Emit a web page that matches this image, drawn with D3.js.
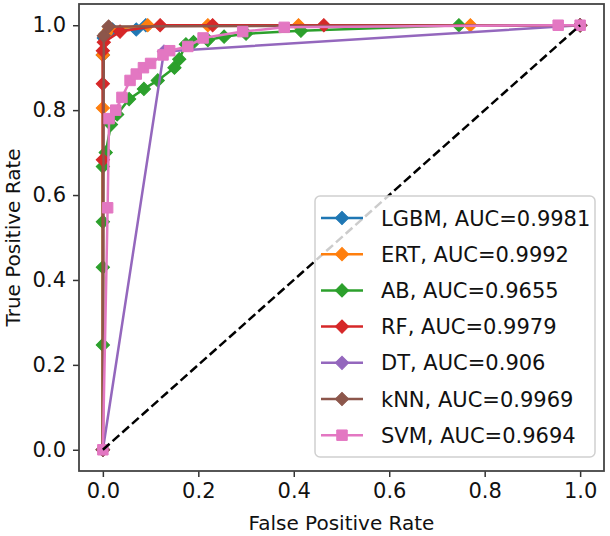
<!DOCTYPE html>
<html><head><meta charset="utf-8">
<script src="https://cdn.jsdelivr.net/npm/d3@7"></script>
<style>body{margin:0;background:#fff}svg{display:block}</style>
</head><body>
<svg id="c" width="610" height="536"></svg>
<script>
const models = ["LGBM","ERT","AB","RF","DT","kNN","SVM"];
const aucs = ["0.9981","0.9992","0.9655","0.9979","0.906","0.9969","0.9694"];
const colors = ["#1f77b4","#ff7f0e","#2ca02c","#d62728","#9467bd","#8c564b","#e377c2"];
const markerTypes = ["D","D","D","D","D","D","s"];

const fprLGBM = [0,0,0.002,0.006,0.02,0.07,0.09,1];
const tprLGBM = [0,0.93,0.97,0.98,0.99,0.99,1.0,1.0];
const fprERT = [0,0,0,0.006,0.013,0.094,0.22,0.41,0.77,1];
const tprERT = [0,0.805,0.93,0.98,0.99,1.0,1.0,1.0,1.0,1.0];
const fprAB = [0,0,0,0,0,0.006,0.017,0.03,0.055,0.086,0.115,0.15,0.16,0.174,0.19,0.22,0.254,0.30,0.415,0.746,1];
const tprAB = [0,0.247,0.43,0.537,0.667,0.70,0.766,0.79,0.826,0.85,0.87,0.90,0.92,0.955,0.96,0.965,0.973,0.98,0.987,1.0,1.0];
const fprRF = [0,0,0,0,0.002,0.036,0.12,0.23,0.463,1];
const tprRF = [0,0.683,0.862,0.94,0.96,0.985,1.0,1.0,1.0,1.0];
const fprDT = [0,0.128,1];
const tprDT = [0,0.938,1];
const fprKNN = [0,0.002,0.012,1];
const tprKNN = [0,0.975,0.997,1.0];
const fprSVM = [0,0.01,0.013,0.027,0.04,0.057,0.07,0.085,0.1,0.126,0.14,0.178,0.21,0.293,0.38,0.954,1];
const tprSVM = [0,0.57,0.78,0.80,0.83,0.87,0.885,0.90,0.91,0.93,0.94,0.95,0.97,0.985,0.995,1.0,1.0];

const xTicks = [0,0.2,0.4,0.6,0.8,1.0];
const yTicks = [0,0.2,0.4,0.6,0.8,1.0];

const fprs = [fprLGBM,fprERT,fprAB,fprRF,fprDT,fprKNN,fprSVM];
const tprs = [tprLGBM,tprERT,tprAB,tprRF,tprDT,tprKNN,tprSVM];

const L=79,R=604,T=4,B=471;
const FONT = "DejaVu Sans, sans-serif";
const svg = d3.select("#c");
const x = d3.scaleLinear().domain([-0.05,1.05]).range([L,R]);
const y = d3.scaleLinear().domain([-0.05,1.05]).range([B,T]);

const line = d3.line().x(d=>x(d[0])).y(d=>y(d[1]));
const diamond = d3.symbol().type(d3.symbolSquare).size(88);
const square = d3.symbol().type(d3.symbolSquare).size(110);

function drawMarker(g, type, cx, cy, col){
  if(type==="D"){
    g.append("path").attr("d", diamond()).attr("transform",`translate(${cx},${cy}) rotate(45)`)
      .attr("fill",col).attr("stroke",col).attr("stroke-width",1);
  } else {
    g.append("path").attr("d", square()).attr("transform",`translate(${cx},${cy})`)
      .attr("fill",col).attr("stroke",col).attr("stroke-width",1);
  }
}

const plot = svg.append("g");
models.forEach((m,i)=>{
  const pts = fprs[i].map((f,j)=>[f,tprs[i][j]]);
  const g = plot.append("g");
  g.append("path").attr("d", line(pts)).attr("fill","none").attr("stroke",colors[i])
    .attr("stroke-width",2.5).attr("stroke-linejoin","round");
  pts.forEach(p=>drawMarker(g, markerTypes[i], x(p[0]), y(p[1]), colors[i]));
});
plot.append("line").attr("x1",x(0)).attr("y1",y(0)).attr("x2",x(1)).attr("y2",y(1))
  .attr("stroke","#000").attr("stroke-width",2.5).attr("stroke-dasharray","9,4");

// axes
const xa = svg.append("g").attr("transform",`translate(0,${B})`)
  .call(d3.axisBottom(x).tickValues(xTicks).tickFormat(d3.format(".1f")).tickSize(6).tickPadding(6));
const ya = svg.append("g").attr("transform",`translate(${L},0)`)
  .call(d3.axisLeft(y).tickValues(yTicks).tickFormat(d3.format(".1f")).tickSize(6).tickPadding(7));
[xa,ya].forEach(a=>{
  a.select(".domain").remove();
  a.selectAll("line").attr("stroke","#333").attr("stroke-width",1.5);
  a.selectAll("text").attr("font-family",FONT).attr("font-size",21).attr("fill","#111");
});
svg.append("rect").attr("x",L).attr("y",T).attr("width",R-L).attr("height",B-T)
  .attr("fill","none").attr("stroke","#444").attr("stroke-width",1.8);

svg.append("text").attr("x",(L+R)/2).attr("y",530).attr("text-anchor","middle")
  .attr("font-family",FONT).attr("font-size",20).attr("fill","#111").text("False Positive Rate");
svg.append("text").attr("transform",`translate(20,${(T+B)/2}) rotate(-90)`).attr("text-anchor","middle")
  .attr("font-family",FONT).attr("font-size",20).attr("fill","#111").text("True Positive Rate");

// legend
const lg = svg.append("g");
lg.append("rect").attr("x",315).attr("y",196).attr("width",280).attr("height",261).attr("rx",5)
  .attr("fill","#fff").attr("fill-opacity",0.8).attr("stroke","#d0d0d0").attr("stroke-width",1.5);
models.forEach((m,i)=>{
  const cy = 218 + i*36.2;
  lg.append("line").attr("x1",321).attr("x2",363).attr("y1",cy).attr("y2",cy)
    .attr("stroke",colors[i]).attr("stroke-width",2.5);
  drawMarker(lg, markerTypes[i], 342, cy, colors[i]);
  lg.append("text").attr("x",381).attr("y",cy).attr("dy","0.36em")
    .attr("font-family",FONT).attr("font-size",21).attr("fill","#111").text(`${m}, AUC=${aucs[i]}`);
});
</script>
</body></html>
